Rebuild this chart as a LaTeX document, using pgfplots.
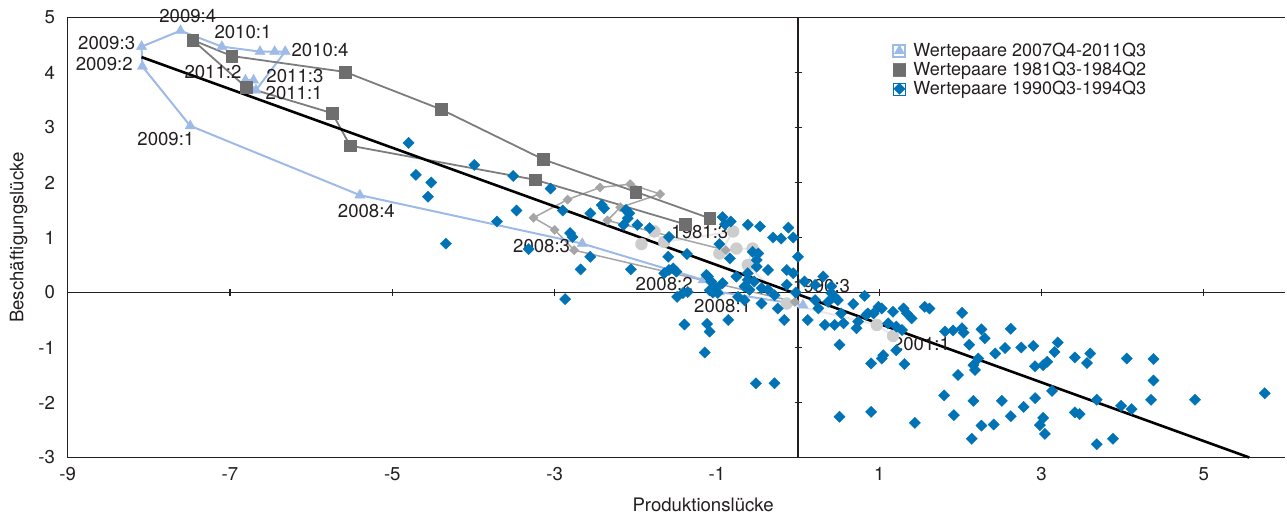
\documentclass[border=0pt]{standalone}
\usepackage{fontspec}
\setmainfont{TeX Gyre Heros}
\usepackage{pgfplots}
\pgfplotsset{compat=1.18}
\definecolor{tri}{RGB}{158,187,231}
\definecolor{sqr}{RGB}{110,110,110}
\definecolor{sqrl}{RGB}{125,125,125}
\definecolor{blu}{RGB}{0,114,182}
\definecolor{gdia}{RGB}{165,165,165}
\definecolor{circ}{RGB}{205,205,205}
\definecolor{circl}{RGB}{232,232,232}
\definecolor{txt}{RGB}{35,31,32}
\newcommand{\fs}{\fontsize{18.6}{22}\selectfont}
\newcommand{\fl}{\fontsize{18}{22}\selectfont}
\begin{document}
\begin{tikzpicture}
\begin{axis}[
 name=ax,
 width=1217.3pt, height=440pt, scale only axis,
 xmin=-9, xmax=6, ymin=-3, ymax=5,
 clip=false,
 axis x line*=bottom, axis y line*=left,
 axis line style={-, draw=txt, line width=1.2pt},
 xtick={-9,-7,-5,-3,-1,1,3,5},
 xticklabels={-9,-7,-5,-3,-1,1,3,5},
 ytick={-3,-2,-1,0,1,2,3,4,5},
 yticklabels={-3,-2,-1,0,1,2,3,4,5},
 major tick length=0pt,
 tick style={draw=none},
 xticklabel style={font=\fs, text=txt, inner sep=0pt, anchor=north, yshift=-10pt},
 yticklabel style={font=\fs, text=txt, inner sep=0pt, anchor=east, xshift=-12.5pt},
 xlabel={Produktionslücke},
 ylabel={Beschäftigungslücke},
 xlabel style={font=\fs, text=txt, at={([yshift=-47.5pt]axis description cs:0.522,0)}, anchor=center, inner sep=0pt},
 ylabel style={font=\fs, text=txt, at={([xshift=-49pt]axis description cs:0,0.5)}, anchor=center, inner sep=0pt},
 legend style={at={(axis cs:1.16,4.57)}, anchor=north west, draw=none, fill=none, font=\fl, text=txt, inner sep=0pt, row sep=0pt, column sep=5pt, cells={anchor=west}},
 legend image code/.code={\path (0pt,-6pt) rectangle (12pt,6pt); \path[#1,only marks] plot coordinates {(6pt,0pt)};},
]
% zero lines, top line and ticks
\draw[txt, line width=1.2pt] (axis cs:0,-3) -- (axis cs:0,5);
\draw[txt, line width=1.2pt] (axis cs:-9,0) -- (axis cs:6,0);
\draw[txt, line width=1.2pt] (axis cs:-9,5) -- (axis cs:6,5);
\pgfplotsinvokeforeach{-3,-2,-1,1,2,3,4}{\draw[txt, line width=1.2pt] ([xshift=-3.5pt]axis cs:0,#1) -- ([xshift=3.5pt]axis cs:0,#1);}
\pgfplotsinvokeforeach{-7,-5,-3,-1,1,3,5}{\draw[txt, line width=1.2pt] ([yshift=-3.5pt]axis cs:#1,0) -- ([yshift=3.5pt]axis cs:#1,0);}

% light grey circles
\addplot[forget plot, color=circl, line width=2pt, mark=*, mark size=6pt, mark options={draw=circ, fill=circ, line width=0.3pt}] coordinates {
(1.17,-0.79) (0.97,-0.59) (-0.14,-0.20) (-0.62,0.50) (-0.56,0.80) (-0.76,0.80) (-0.97,0.71) (-0.80,1.11) (-1.65,0.92) (-1.77,1.11) (-1.93,0.88)};
% grey diamonds
\addplot[forget plot, color=gdia, line width=1.5pt, mark=square*, mark size=3.3pt, mark options={rotate=45, draw=gdia, fill=gdia, line width=0.3pt}] coordinates {
(-0.04,-0.17) (-2.76,0.77) (-3.00,1.14) (-3.26,1.36) (-2.84,1.69) (-2.44,1.91) (-2.07,1.97) (-1.70,1.79) (-2.19,1.55) (-2.35,1.31) (-0.89,0.77)};
% 2007Q4-2011Q3
\addplot[color=tri, line width=2pt, mark=triangle*, mark size=6pt, mark options={draw=tri, fill=tri, line width=0.3pt}] coordinates {
(0.06,-0.23) (-0.97,0.01) (-1.17,0.23) (-2.66,0.89) (-5.40,1.77) (-7.49,3.03) (-8.08,4.11) (-8.09,4.47) (-7.61,4.76) (-7.10,4.47) (-6.63,4.38) (-6.45,4.38) (-6.32,4.38) (-6.68,3.68) (-6.81,3.86) (-6.71,3.86)};
\addlegendentry{Wertepaare 2007Q4-2011Q3}
% 1981Q3-1984Q2
\addplot[color=sqrl, line width=1.8pt, mark=square*, mark size=5.8pt, mark options={draw=sqr, fill=sqr, line width=0.3pt}] coordinates {
(-1.39,1.24) (-3.24,2.05) (-5.52,2.67) (-5.74,3.26) (-6.80,3.73) (-7.46,4.59) (-6.98,4.30) (-5.58,4.01) (-4.40,3.33) (-3.14,2.42) (-2.00,1.83) (-1.09,1.35)};
\addlegendentry{Wertepaare 1981Q3-1984Q2}
% 1990Q3-1994Q3
\addplot[only marks, color=blu, mark=square*, mark size=4.0pt, mark options={rotate=45, draw=blu, fill=blu, line width=0.3pt}] table {
x y
-4.80 2.72
-4.71 2.14
-4.52 2.00
-4.56 1.74
-4.34 0.89
-3.99 2.32
-3.51 2.12
-3.71 1.29
-3.47 1.49
-3.05 1.89
-2.90 1.49
-2.81 1.08
-2.78 1.01
-2.56 1.44
-2.42 1.59
-2.39 1.53
-2.56 0.65
-2.68 0.42
-3.32 0.79
-2.87 -0.12
-2.12 1.50
-2.08 1.44
-2.15 1.23
-2.10 1.35
-1.98 1.23
-1.83 1.17
-2.06 0.42
-1.60 0.65
-1.59 1.01
-1.37 0.70
-1.65 0.35
-1.59 0.41
-1.54 0.44
-1.50 0.38
-1.49 -0.08
-1.42 -0.01
-1.36 0.01
-1.40 -0.58
-1.12 -0.57
-1.09 -0.71
-1.15 -1.09
-0.86 -0.50
-1.11 0.29
-1.07 0.20
-1.01 0.08
-1.09 0.04
-1.13 0.32
-1.05 0.00
-0.99 -0.01
-0.76 0.29
-0.97 0.88
-0.93 1.37
-0.83 1.29
-0.90 1.24
-0.62 1.23
-0.47 1.20
-0.31 1.00
-0.21 0.98
-0.12 1.18
-0.06 1.00
0.00 0.65
-0.84 0.62
-0.51 0.59
-0.49 0.71
-0.56 0.74
-0.37 0.41
-0.14 0.41
-0.06 0.35
-0.62 0.23
-0.54 0.20
-0.66 0.11
-0.60 0.05
-0.45 0.08
-0.37 0.05
-0.29 -0.05
-0.45 -0.20
-0.25 -0.29
-0.17 -0.50
-0.14 0.14
-0.62 0.35
-0.51 0.47
-0.74 -0.08
-0.66 -0.14
-0.52 -1.65
-0.29 -1.65
-0.93 0.17
-0.03 0.00
0.08 0.20
0.21 -0.14
0.25 -0.29
0.12 -0.50
0.31 0.29
0.41 0.11
0.45 -0.08
0.33 -0.59
0.49 -0.14
0.53 -0.38
0.68 -0.21
0.82 -0.06
0.51 -0.95
0.45 -0.59
0.56 -0.56
0.74 -0.53
0.72 -0.65
0.86 -0.38
0.99 -0.26
1.05 -1.14
0.21 0.14
0.41 -0.01
0.37 -0.17
0.84 -0.41
0.93 -0.38
1.03 -0.29
1.17 -0.35
1.30 -0.29
1.34 -0.38
1.40 -0.47
1.11 -0.56
1.21 -0.62
1.28 -0.68
0.90 -1.29
1.03 -1.20
1.31 -1.30
1.21 -1.05
1.56 -0.26
1.62 -0.29
0.51 -2.26
0.90 -2.17
1.44 -2.37
2.02 -0.37
1.81 -0.71
1.91 -0.69
2.02 -0.65
2.04 -0.73
2.26 -0.67
2.30 -0.83
2.11 -0.95
1.97 -1.50
2.16 -1.32
2.18 -1.41
2.22 -1.20
2.43 -1.11
2.55 -1.01
2.62 -0.66
2.75 -1.00
2.90 -0.97
3.20 -0.91
3.16 -1.08
2.92 -1.34
3.02 -1.32
3.07 -1.26
3.41 -1.18
3.60 -1.11
3.56 -1.28
4.05 -1.20
4.38 -1.21
4.38 -1.60
1.80 -1.87
2.16 -1.97
2.51 -1.97
2.78 -2.08
2.92 -1.92
3.13 -1.79
1.92 -2.23
2.26 -2.42
2.41 -2.40
2.14 -2.66
2.62 -2.25
3.02 -2.28
2.98 -2.41
3.04 -2.57
3.41 -2.18
3.47 -2.21
3.68 -1.95
3.98 -2.06
4.11 -2.12
4.35 -1.95
3.68 -2.76
3.88 -2.66
4.89 -1.95
5.75 -1.83
};
\addlegendentry{Wertepaare 1990Q3-1994Q3}
% regression line
\addplot[forget plot, black, line width=2.6pt] coordinates {(-8.09,4.28) (5.56,-3.0)};

% point labels
\node[font=\fs, text=txt, inner sep=0pt] at (axis cs:-7.52,5.02) {2009:4};
\node[font=\fs, text=txt, inner sep=0pt] at (axis cs:-8.52,4.54) {2009:3};
\node[font=\fs, text=txt, inner sep=0pt] at (axis cs:-8.55,4.15) {2009:2};
\node[font=\fs, text=txt, inner sep=0pt] at (axis cs:-6.84,4.74) {2010:1};
\node[font=\fs, text=txt, inner sep=0pt] at (axis cs:-5.89,4.41) {2010:4};
\node[font=\fs, text=txt, inner sep=0pt] at (axis cs:-7.21,4.01) {2011:2};
\node[font=\fs, text=txt, inner sep=0pt] at (axis cs:-6.20,3.935) {2011:3};
\node[font=\fs, text=txt, inner sep=0pt] at (axis cs:-6.21,3.635) {2011:1};
\node[font=\fs, text=txt, inner sep=0pt] at (axis cs:-7.79,2.79) {2009:1};
\node[font=\fs, text=txt, inner sep=0pt] at (axis cs:-5.32,1.49) {2008:4};
\node[font=\fs, text=txt, inner sep=0pt] at (axis cs:-3.16,0.84) {2008:3};
\node[font=\fs, text=txt, inner sep=0pt] at (axis cs:-1.65,0.15) {2008:2};
\node[font=\fs, text=txt, inner sep=0pt] at (axis cs:-0.93,-0.24) {2008:1};
\node[font=\fs, text=txt, inner sep=0pt] at (axis cs:-1.21,1.10) {1981:3};
\node[font=\fs, text=txt, inner sep=0pt] at (axis cs:0.29,0.11) {1990:3};
\node[font=\fs, text=txt, inner sep=0pt] at (axis cs:1.52,-0.94) {2001:1};
\end{axis}
\pgfresetboundingbox
\path[use as bounding box] ([shift={(-67.7pt,-58.5pt)}]ax.south west) rectangle ([shift={(2pt,17.5pt)}]ax.north east);
\end{tikzpicture}
\end{document}
